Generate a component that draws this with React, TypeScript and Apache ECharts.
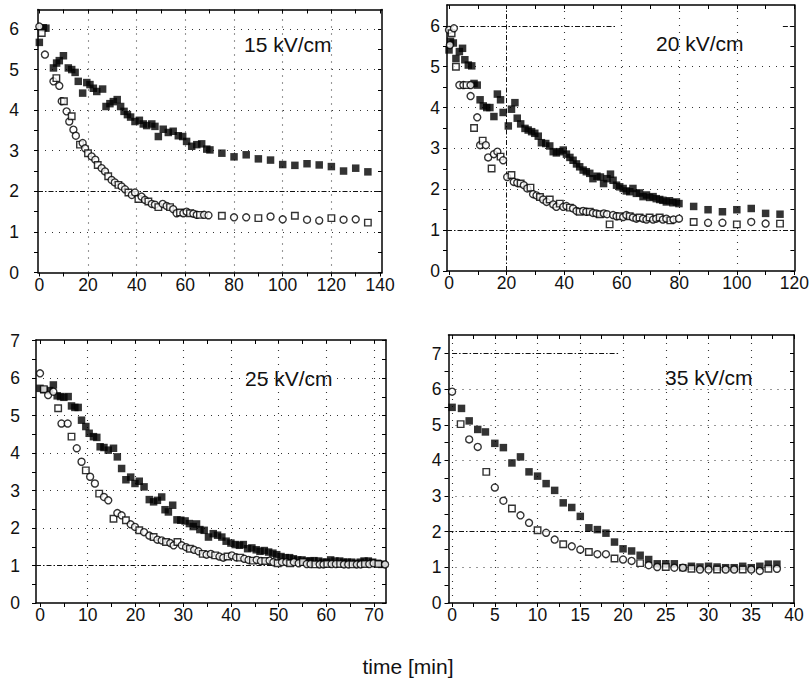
import React, { useEffect, useRef } from 'react';
import * as echarts from 'echarts';

// ---------- data (time [min], value) ----------
const f15: [number, number][] = [
  [0, 5.67], [1.6, 6.03], [2.7, 6.02], [5.8, 5.04], [7.1, 5.16], [8.2, 5.22], [9.9, 5.34], [11.9, 5.04], [13.3, 5.0],
  [14.7, 4.93], [16, 4.71], [17.8, 4.42], [19.5, 4.68], [20.8, 4.63], [22.2, 4.54], [23.6, 4.46], [26, 4.52],
  [27.4, 4.09], [29, 4.16], [30.4, 4.21], [32, 4.26], [33.4, 4.09], [34.8, 3.97], [36.2, 3.89], [37.5, 3.83],
  [39.3, 3.72], [41.1, 3.75], [42.7, 3.66], [44.1, 3.62], [46.2, 3.66], [47.5, 3.6], [48.9, 3.35], [50.9, 3.53],
  [53, 3.45], [55, 3.48], [57.1, 3.37], [58.9, 3.35], [60.5, 3.23], [62.6, 3.11], [64.7, 3.15], [66.7, 3.17],
  [68.8, 3.04], [70.1, 3.02], [75, 2.94], [80, 2.85], [85, 2.9], [90, 2.8], [95, 2.77], [100, 2.66], [105, 2.64],
  [110, 2.68], [115, 2.65], [120, 2.61], [125, 2.5], [130, 2.57], [135, 2.48],
];
const o15: [number, number][] = [
  [0, 6.06], [1, 5.9], [2.3, 5.37], [5.8, 4.71], [7, 4.79], [8.2, 4.6], [9.2, 4.22], [10.1, 4.22], [11.2, 3.97],
  [12.3, 3.72], [13.3, 3.85], [14, 3.52], [15, 3.37], [16.7, 3.15], [17.8, 3.19], [18.8, 3.06], [20, 2.94],
  [21.5, 2.86], [23, 2.78], [24, 2.65], [25.6, 2.57], [27, 2.49], [28.3, 2.37], [29.7, 2.28], [31, 2.22],
  [32.5, 2.16], [33.8, 2.12], [35.2, 2.05], [36.6, 1.97], [38, 1.91], [39.3, 1.97], [40.7, 1.81], [42, 1.87],
  [43.4, 1.79], [44.8, 1.75], [46.2, 1.69], [47.5, 1.67], [48.9, 1.61], [50.7, 1.69], [52.3, 1.64], [53.7, 1.61],
  [55, 1.56], [56.4, 1.46], [57.8, 1.48], [59.2, 1.46], [60.5, 1.5], [61.9, 1.46], [63.3, 1.45], [64.7, 1.42],
  [66, 1.42], [67.7, 1.42], [69.5, 1.41], [75, 1.4], [80, 1.36], [85, 1.36], [90, 1.34], [95, 1.38], [100, 1.31],
  [105, 1.4], [110, 1.3], [115, 1.28], [120, 1.34], [125, 1.3], [130, 1.31], [135, 1.23],
];

const f20: [number, number][] = [
  [0, 5.41], [0.5, 5.62], [1.5, 5.58], [2.4, 5.2], [3.6, 5.37], [4.7, 5.45], [5.5, 5.17], [6.7, 5.04], [7.9, 5.02],
  [8.7, 4.59], [9.8, 4.55], [10.8, 4.19], [11.9, 4.04], [13.1, 4.0], [14.2, 4.0], [15.6, 3.78], [16.8, 4.33],
  [17.9, 4.19], [18.8, 3.88], [20.6, 3.55], [21.7, 3.96], [22.9, 4.12], [23.7, 3.74], [24.9, 3.6], [26.4, 3.49],
  [27.5, 3.45], [28.7, 3.41], [29.8, 3.37], [31, 3.3], [32.1, 3.14], [33.6, 3.12], [35, 3.06], [36.2, 2.92],
  [37.3, 2.89], [38.5, 2.92], [39.7, 2.96], [40.8, 2.86], [42, 2.78], [43.1, 2.71], [44.3, 2.62], [45.4, 2.55],
  [46.6, 2.47], [47.7, 2.43], [48.9, 2.39], [50, 2.26], [51.4, 2.32], [52.6, 2.3], [53.7, 2.14], [54.9, 2.26],
  [56.1, 2.37], [57, 2.22], [58.2, 2.1], [59.3, 2.06], [60.5, 2.02], [61.6, 1.96], [62.8, 1.94], [63.9, 2.02],
  [65.1, 1.9], [66.2, 1.91], [67.4, 1.82], [68.6, 1.86], [69.7, 1.8], [70.9, 1.82], [72, 1.77], [73.2, 1.75],
  [74.3, 1.73], [75.5, 1.69], [76.6, 1.72], [77.8, 1.67], [79, 1.69], [79.9, 1.65], [85, 1.58], [90, 1.5],
  [95, 1.45], [100, 1.5], [105, 1.53], [110, 1.41], [115, 1.39],
];
const o20: [number, number][] = [
  [0, 5.9], [0.9, 5.82], [1.7, 5.94], [0.3, 5.53], [2.4, 5.0], [3.6, 4.55], [5, 4.55], [6.1, 4.55], [7.5, 4.55],
  [7.5, 4.28], [8.7, 3.5], [9.8, 3.76], [10.8, 3.08], [11.7, 3.19], [12.8, 3.08], [13.6, 2.78], [14.8, 2.51],
  [15.6, 2.86], [16.8, 2.92], [17.9, 2.8], [18.8, 2.71], [20.2, 2.3], [21.7, 2.35], [22.5, 2.18], [23.7, 2.16],
  [24.9, 2.14], [26, 2.1], [27.2, 2.02], [28.3, 2.04], [29.2, 1.88], [30.4, 1.85], [31.6, 1.81], [32.7, 1.75],
  [33.9, 1.69], [35, 1.75], [36.2, 1.63], [37.3, 1.57], [38.5, 1.65], [39.7, 1.57], [40.8, 1.59], [42, 1.55],
  [43.1, 1.53], [44.3, 1.47], [45.4, 1.45], [46.6, 1.47], [47.7, 1.45], [48.9, 1.45], [50, 1.42], [51.2, 1.41],
  [52.4, 1.39], [53.8, 1.41], [54.9, 1.39], [55.8, 1.14], [57, 1.37], [58.2, 1.34], [59.3, 1.34], [60.5, 1.32],
  [61.6, 1.37], [62.8, 1.34], [63.9, 1.31], [65.1, 1.28], [66.2, 1.31], [67.4, 1.28], [68.6, 1.26], [69.7, 1.31],
  [70.9, 1.26], [72, 1.28], [73.2, 1.31], [74.3, 1.26], [75.5, 1.28], [76.9, 1.24], [78, 1.26], [79.9, 1.28],
  [85, 1.2], [90, 1.18], [95, 1.18], [100, 1.14], [105, 1.2], [110, 1.16], [115, 1.16],
];

const f25: [number, number][] = [
  [0, 5.73], [0.8, 5.69], [2, 5.67], [2.8, 5.82], [3.6, 5.53], [4.3, 5.51], [5, 5.49], [5.9, 5.51], [6.6, 5.26],
  [7.3, 5.22], [8, 5.22], [8.7, 4.88], [9.6, 4.71], [10.3, 4.53], [11.2, 4.44], [11.9, 4.42], [12.6, 4.17],
  [13.4, 4.15], [14.3, 4.08], [15.4, 4.13], [16.2, 3.9], [17.1, 3.59], [18, 3.29], [19, 3.36], [19.9, 3.19],
  [20.8, 3.25], [21.8, 3.1], [22.9, 2.76], [23.8, 2.7], [24.6, 2.74], [25.5, 2.83], [26.2, 2.49], [26.9, 2.43],
  [27.8, 2.61], [28.7, 2.22], [29.5, 2.21], [30.4, 2.19], [31.3, 2.12], [32.1, 2.04], [32.8, 2.11], [33.5, 1.96],
  [34.4, 1.94], [35.3, 1.76], [36.3, 1.85], [37.2, 1.81], [38.1, 1.76], [39, 1.65], [40, 1.6], [40.9, 1.56],
  [41.8, 1.54], [42.6, 1.56], [43.5, 1.45], [44.4, 1.47], [45.3, 1.42], [46.1, 1.38], [47, 1.4], [47.9, 1.36],
  [48.8, 1.33], [49.6, 1.29], [50.5, 1.24], [51.4, 1.21], [52.3, 1.21], [53.1, 1.18], [54, 1.15], [54.9, 1.15],
  [55.8, 1.12], [56.6, 1.12], [57.4, 1.13], [58.4, 1.12], [59.3, 1.09], [60.1, 1.09], [60.9, 1.15], [61.8, 1.12],
  [62.8, 1.12], [63.6, 1.09], [64.4, 1.09], [65.3, 1.09], [66.2, 1.06], [67.1, 1.09], [67.9, 1.12], [68.8, 1.12],
  [69.7, 1.09], [70.7, 1.06], [71.6, 1.03],
];
const o25: [number, number][] = [
  [0, 6.13], [0.8, 5.71], [1.7, 5.55], [2.8, 5.64], [3.8, 5.2], [4.5, 4.79], [5.8, 4.79], [6.6, 4.44], [7.7, 4.13],
  [8.7, 3.77], [9.6, 3.54], [10.5, 3.37], [11.5, 3.19], [12.4, 2.92], [13.4, 2.83], [14.3, 2.74], [15.4, 2.25],
  [16.2, 2.4], [17.1, 2.34], [18, 2.21], [19, 2.1], [19.9, 2.03], [20.8, 1.94], [21.8, 1.89], [22.9, 1.8],
  [23.8, 1.76], [24.6, 1.69], [25.5, 1.67], [26.4, 1.63], [27.3, 1.6], [28, 1.54], [28.8, 1.63], [29.7, 1.54],
  [30.6, 1.49], [31.4, 1.45], [32.3, 1.42], [33.2, 1.38], [34.1, 1.31], [34.9, 1.29], [35.8, 1.31], [36.7, 1.27],
  [37.6, 1.24], [38.4, 1.21], [39.3, 1.24], [40.2, 1.27], [41.1, 1.22], [41.9, 1.21], [42.8, 1.18], [43.7, 1.15],
  [44.6, 1.13], [45.4, 1.15], [46.3, 1.12], [47.2, 1.12], [48.1, 1.13], [48.9, 1.09], [49.8, 1.06], [50.7, 1.09],
  [51.6, 1.09], [52.4, 1.06], [53.2, 1.09], [54.2, 1.06], [55.1, 1.09], [55.9, 1.04], [56.7, 1.04], [57.7, 1.03],
  [58.6, 1.03], [59.4, 1.03], [60.2, 1.04], [61.1, 1.04], [62, 1.04], [62.9, 1.04], [63.7, 1.03], [64.6, 1.03],
  [65.5, 1.03], [66.4, 1.03], [67.2, 1.03], [68.1, 1.04], [69, 1.04], [69.9, 1.06], [70.9, 1.04], [72.3, 1.03],
];

const f35: [number, number][] = [
  [0, 5.49], [1.1, 5.46], [2, 5.11], [3, 4.87], [3.9, 4.8], [5, 4.48], [6, 4.36], [7, 3.93], [8, 4.1], [9, 3.68],
  [10, 3.56], [11, 3.35], [12, 3.16], [13, 2.81], [14, 2.68], [15, 2.43], [16, 2.11], [17, 2.06], [18, 1.96],
  [19, 1.71], [20, 1.52], [21, 1.46], [22, 1.34], [23, 1.22], [24, 1.1], [25, 1.1], [26, 1.1], [27, 0.99],
  [28, 1.03], [29, 1.01], [30, 1.03], [31, 1.01], [32, 0.99], [33, 0.99], [34, 1.03], [35, 0.99], [36, 1.03],
  [37, 1.09], [38, 1.09],
];
const o35: [number, number][] = [
  [0, 5.93], [1, 5.02], [2, 4.59], [3, 4.38], [4, 3.68], [5, 3.24], [6, 2.87], [7, 2.65], [8, 2.46], [9, 2.25],
  [10, 2.04], [11, 1.97], [12, 1.78], [13, 1.65], [14, 1.59], [15, 1.5], [16, 1.43], [17, 1.37], [18, 1.37],
  [19, 1.25], [20, 1.22], [21, 1.18], [22, 1.12], [23, 1.06], [24, 1.01], [25, 1.01], [26, 0.99], [27, 0.99],
  [28, 0.96], [29, 0.94], [30, 0.94], [31, 0.94], [32, 0.94], [33, 0.94], [34, 0.94], [35, 0.94], [36, 0.9],
  [37, 0.96], [38, 0.96],
];

const xTicks15 = [0, 20, 40, 60, 80, 100, 120, 140];
const xTicks20 = [0, 20, 40, 60, 80, 100, 120];
const xTicks25 = [0, 10, 20, 30, 40, 50, 60, 70];
const xTicks35 = [0, 5, 10, 15, 20, 25, 30, 35, 40];
const yTicks6 = [0, 1, 2, 3, 4, 5, 6];
const yTicks7 = [0, 1, 2, 3, 4, 5, 6, 7];
const panelLabels = ['15 kV/cm', '20 kV/cm', '25 kV/cm', '35 kV/cm'];
const xAxisTitle = 'time [min]';

// ---------- layout ----------
const FONT = 'Liberation Sans, Arial, Helvetica, sans-serif';
const DOT = { type: [1, 6] as number[], color: '#333', width: 1.1 };
const DASHDOT = { type: [5, 2, 1.5, 2] as number[], color: '#111', width: 1 };

type Panel = {
  grid: { left: number; top: number; width: number; height: number };
  xMin: number; xMax: number; yMax: number;
  xTicks: number[]; yTicks: number[];
  filled: [number, number][]; open: [number, number][];
  yMargin: number;
  vDots: number[]; vDashDot: number[];
  hDots: number[]; hDashDot: number[];
  partial: [[number, number], [number, number]][];
  label: string; lx: number; ly: number;
};

const panels: Panel[] = [
  {
    grid: { left: 38, top: 9.5, width: 344, height: 263 }, xMin: -0.55, xMax: 140.8, yMax: 6.48,
    xTicks: xTicks15, yTicks: yTicks6, filled: f15, open: o15, yMargin: 19,
    vDots: [20, 40, 60, 80, 100, 120], vDashDot: [], hDots: [1, 3, 4, 5, 6], hDashDot: [2], partial: [],
    label: panelLabels[0], lx: 244, ly: 44,
  },
  {
    grid: { left: 447, top: 5, width: 348, height: 266 }, xMin: -0.7, xMax: 120, yMax: 6.51,
    xTicks: xTicks20, yTicks: yTicks6, filled: f20, open: o20, yMargin: 7,
    vDots: [40, 60, 80, 100], vDashDot: [20], hDots: [2, 3, 4, 5], hDashDot: [1],
    partial: [[[0, 6], [58, 6]], [[116, 6], [120, 6]]],
    label: panelLabels[1], lx: 656, ly: 43,
  },
  {
    grid: { left: 36, top: 340, width: 350, height: 263 }, xMin: -0.84, xMax: 72.5, yMax: 7.02,
    xTicks: xTicks25, yTicks: yTicks7, filled: f25, open: o25, yMargin: 16,
    vDots: [10, 20, 30, 40, 50, 60, 70], vDashDot: [], hDots: [2, 3, 4, 5, 6], hDashDot: [1], partial: [],
    label: panelLabels[2], lx: 245, ly: 378,
  },
  {
    grid: { left: 448.5, top: 335, width: 345.5, height: 268 }, xMin: -0.42, xMax: 40, yMax: 7.52,
    xTicks: xTicks35, yTicks: yTicks7, filled: f35, open: o35, yMargin: 7,
    vDots: [0, 5, 10, 15, 20, 25, 30, 35], vDashDot: [], hDots: [1, 3, 4, 5, 6], hDashDot: [2],
    partial: [[[0, 7], [19.5, 7]]],
    label: panelLabels[3], lx: 665, ly: 377,
  },
];

function withHalves(ticks: number[]): number[] {
  const out: number[] = [];
  for (let i = 0; i < ticks.length; i++) {
    out.push(ticks[i]);
    if (i < ticks.length - 1) out.push((ticks[i] + ticks[i + 1]) / 2);
  }
  return out;
}

function buildOption() {
  const grid: any[] = [];
  const xAxis: any[] = [];
  const yAxis: any[] = [];
  const series: any[] = [];
  const graphic: any[] = [];
  const axisLine = { show: true, onZero: false, lineStyle: { color: '#000', width: 1.5 } };
  const labelStyle = { fontSize: 17.5, color: '#111', fontFamily: FONT };

  panels.forEach((p, i) => {
    grid.push({ ...p.grid, containLabel: false });
    const xt = withHalves(p.xTicks);
    const yt = withHalves(p.yTicks);
    xAxis.push({
      type: 'value', gridIndex: i, position: 'bottom', min: p.xMin, max: p.xMax,
      axisLine, splitLine: { show: false },
      axisTick: { show: true, inside: false, length: 4, customValues: xt, lineStyle: { color: '#000', width: 1 } },
      axisLabel: { show: true, customValues: p.xTicks, margin: 3, ...labelStyle },
    });
    xAxis.push({
      type: 'value', gridIndex: i, position: 'top', min: p.xMin, max: p.xMax,
      axisLine, splitLine: { show: false },
      axisTick: { show: true, inside: true, length: 4, customValues: xt, lineStyle: { color: '#000', width: 1 } },
      axisLabel: { show: false },
    });
    yAxis.push({
      type: 'value', gridIndex: i, position: 'left', min: 0, max: p.yMax,
      axisLine, splitLine: { show: false },
      axisTick: { show: true, inside: false, length: 4, customValues: yt, lineStyle: { color: '#000', width: 1 } },
      axisLabel: { show: true, customValues: p.yTicks, margin: p.yMargin, ...labelStyle },
    });
    yAxis.push({
      type: 'value', gridIndex: i, position: 'right', min: 0, max: p.yMax,
      axisLine, splitLine: { show: false },
      axisTick: { show: true, inside: true, length: 4, customValues: yt, lineStyle: { color: '#000', width: 1 } },
      axisLabel: { show: false },
    });

    const mlData: any[] = [];
    p.vDots.forEach((v) => mlData.push({ xAxis: v, lineStyle: DOT }));
    p.vDashDot.forEach((v) => mlData.push({ xAxis: v, lineStyle: DASHDOT }));
    p.hDots.forEach((v) => mlData.push({ yAxis: v, lineStyle: DOT }));
    p.hDashDot.forEach((v) => mlData.push({ yAxis: v, lineStyle: DASHDOT }));
    p.partial.forEach(([a, b]) => mlData.push([{ coord: a, lineStyle: DASHDOT }, { coord: b }]));

    series.push({
      type: 'scatter', xAxisIndex: 2 * i, yAxisIndex: 2 * i,
      data: p.filled, symbol: 'rect', symbolSize: 7.5,
      itemStyle: { color: '#000' }, z: 3,
      markLine: {
        silent: true, symbol: ['none', 'none'], label: { show: false }, animation: false,
        emphasis: { disabled: true }, data: mlData, z: 1,
      },
    });
    series.push({
      type: 'scatter', xAxisIndex: 2 * i, yAxisIndex: 2 * i,
      data: p.open.map((d, k) => ({ value: d, symbol: k % 3 === 1 ? 'rect' : 'circle', symbolSize: k % 3 === 1 ? 6.5 : 7 })),
      itemStyle: { color: '#fff', borderColor: '#000', borderWidth: 1.4 }, z: 4,
    });

    graphic.push({
      type: 'text', x: p.lx, y: p.ly,
      style: { text: p.label, font: `21px ${FONT}`, fill: '#111', verticalAlign: 'middle', align: 'left' },
    });
  });

  graphic.push({
    type: 'text', x: 408, y: 666,
    style: { text: xAxisTitle, font: `21px ${FONT}`, fill: '#111', verticalAlign: 'middle', align: 'center' },
  });

  return {
    animation: false,
    backgroundColor: '#fff',
    grid, xAxis, yAxis, series, graphic,
  };
}

export default function App() {
  const ref = useRef<HTMLDivElement>(null);
  useEffect(() => {
    if (!ref.current) return;
    const chart = echarts.init(ref.current, undefined, { renderer: 'svg' });
    chart.setOption(buildOption() as any);
    return () => chart.dispose();
  }, []);
  return (
    <div
      ref={ref}
      style={{ position: 'fixed', left: 0, top: 0, width: 812, height: 681, background: '#fff' }}
    />
  );
}
